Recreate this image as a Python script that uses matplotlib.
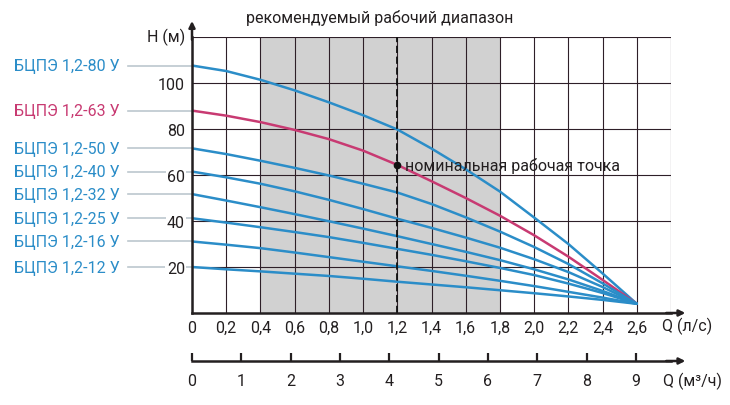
"""
Pump head curves for the БЦПЭ 1,2 series.
"""

import matplotlib.pyplot as plt

# Flow rate, l/s
Q_LS = [0, 0.2, 0.4, 0.6, 0.8, 1.0, 1.2, 1.4, 1.6, 1.8, 2.0, 2.2, 2.4, 2.6]

# Head, m, for each pump model
H_80 = [107.6, 105.2, 101.4, 96.8, 91.6, 86.0, 79.8, 71.5, 62.5, 52.8, 41.5, 30.0, 17.2, 4.0]
H_63 = [88.0, 85.8, 83.0, 79.6, 75.6, 70.6, 64.4, 57.3, 50.0, 42.3, 33.8, 24.5, 14.4, 4.0]
H_50 = [71.6, 69.1, 66.2, 63.1, 59.8, 56.2, 52.4, 47.4, 41.6, 35.4, 28.7, 21.3, 12.9, 4.0]
H_40 = [61.5, 59.0, 56.2, 52.9, 49.2, 45.2, 41.0, 37.0, 32.8, 28.4, 23.4, 17.8, 11.3, 4.0]
H_32 = [51.7, 48.9, 46.0, 43.0, 39.9, 36.7, 33.4, 30.0, 26.6, 23.0, 19.0, 14.6, 9.6, 4.0]
H_25 = [41.2, 39.3, 37.3, 35.2, 33.0, 30.5, 27.9, 25.3, 22.5, 19.6, 16.5, 12.8, 8.7, 4.0]
H_16 = [31.1, 29.7, 28.2, 26.3, 24.3, 22.3, 20.3, 18.3, 16.2, 14.0, 11.7, 9.2, 6.7, 4.0]
H_12 = [20.0, 19.0, 18.1, 17.1, 16.1, 14.9, 13.6, 12.4, 11.2, 9.9, 8.6, 7.2, 5.7, 4.0]

MODELS = ["БЦПЭ 1,2-80 У", "БЦПЭ 1,2-63 У", "БЦПЭ 1,2-50 У", "БЦПЭ 1,2-40 У",
          "БЦПЭ 1,2-32 У", "БЦПЭ 1,2-25 У", "БЦПЭ 1,2-16 У", "БЦПЭ 1,2-12 У"]
HEADS = [H_80, H_63, H_50, H_40, H_32, H_25, H_16, H_12]

# Recommended working range and nominal point
RANGE_Q = [0.4, 1.8]
NOMINAL_Q = 1.2
NOMINAL_H = 64.4

# Axis ticks
X_TICKS = [0, 0.2, 0.4, 0.6, 0.8, 1.0, 1.2, 1.4, 1.6, 1.8, 2.0, 2.2, 2.4, 2.6, 2.8]
X_LABELS = ["0", "0,2", "0,4", "0,6", "0,8", "1,0", "1,2", "1,4", "1,6", "1,8",
            "2,0", "2,2", "2,4", "2,6", ""]
Y_TICKS = [20, 40, 60, 80, 100, 120]
Y_LABELS = ["20", "40", "60", "80", "100", ""]
M3H_TICKS = [0, 1, 2, 3, 4, 5, 6, 7, 8, 9]

BLUE = "#2b8dc8"
RED = "#c83a72"
DARK = "#231f20"
GRID = "#2e1f28"
FS = 11.5


def draw_chart():
    """Draw the head curves with both flow scales."""
    plt.rcParams["font.family"] = ["Roboto", "DejaVu Sans"]
    fig = plt.figure(figsize=(7.3, 4.06), dpi=100)
    ax = fig.add_axes([192 / 730, 1 - 314 / 406, 479 / 730, 276 / 406])

    ax.set_xlim(0, 2.8)
    ax.set_ylim(0, 120)

    # Recommended range and nominal flow
    ax.axvspan(RANGE_Q[0], RANGE_Q[1], color="#d1d1d1", lw=0, zorder=0.3)
    ax.axvline(NOMINAL_Q, color="#111111", lw=1.3, ls=(0, (4, 2)), zorder=3)

    # Grid
    ax.set_axisbelow(True)
    ax.set_xticks(X_TICKS)
    ax.set_xticklabels(X_LABELS)
    ax.set_yticks(Y_TICKS)
    ax.set_yticklabels(Y_LABELS)
    ax.grid(True, color=GRID, lw=0.8)
    ax.tick_params(length=0, labelsize=FS, labelcolor=DARK)
    ax.tick_params(axis="x", pad=5)
    ax.tick_params(axis="y", pad=5)
    for lab in ax.get_yticklabels():
        lab.set_bbox(dict(facecolor="white", edgecolor="none", pad=1))

    for side in ["top", "right"]:
        ax.spines[side].set_visible(False)
    for side in ["left", "bottom"]:
        ax.spines[side].set_linewidth(1.8)
        ax.spines[side].set_color(DARK)
        ax.spines[side].set_zorder(4)

    arrow = dict(arrowstyle="-|>", color=DARK, lw=1.8, mutation_scale=9,
                 shrinkA=0, shrinkB=0)
    ax.annotate("", xy=(1.03, 0), xytext=(0.99, 0), xycoords="axes fraction",
                arrowprops=arrow, annotation_clip=False)
    ax.annotate("", xy=(0, 1.058), xytext=(0, 0.99), xycoords="axes fraction",
                arrowprops=arrow, annotation_clip=False)

    # Curves, labels and leader lines
    for name, head in zip(MODELS, HEADS):
        color = RED if "63" in name else BLUE
        ax.plot(Q_LS, head, color=color, lw=1.8, zorder=2, solid_capstyle="round",
                solid_joinstyle="round")
        ax.plot([-0.373, 0], [head[0], head[0]], color="#bcc7ce", lw=1.2,
                clip_on=False, zorder=0.2)
        ax.text(-0.42, head[0], name, color=color, fontsize=FS,
                ha="right", va="center")

    ax.plot([NOMINAL_Q], [NOMINAL_H], "o", color="#111111", ms=4.5, zorder=5)
    ax.text(NOMINAL_Q + 0.045, NOMINAL_H, "номинальная рабочая точка",
            fontsize=FS, color=DARK, va="center", zorder=5)

    ax.text(sum(RANGE_Q) / 2, 128.7, "рекомендуемый рабочий диапазон",
            fontsize=FS, color=DARK, ha="center", va="center")
    ax.text(-0.04, 120.4, "Н (м)", fontsize=FS, color=DARK,
            ha="right", va="center")
    ax.text(2.747, -5.2, "Q (л/с)", fontsize=FS, color=DARK, va="center")

    # Second flow scale, m3/h
    ax2 = fig.add_axes([192 / 730, 1 - 362 / 406, 479 / 730, 0.001])
    ax2.set_xlim(0, 9 * 479 / 444)
    ax2.patch.set_visible(False)
    for side in ["top", "right", "left"]:
        ax2.spines[side].set_visible(False)
    ax2.spines["bottom"].set_linewidth(1.8)
    ax2.spines["bottom"].set_color(DARK)
    ax2.set_yticks([])
    ax2.set_xticks(M3H_TICKS)
    ax2.set_xticklabels([str(t) for t in M3H_TICKS])
    ax2.tick_params(axis="x", direction="in", length=6, width=1.6, color=DARK,
                    pad=9, labelsize=FS, labelcolor=DARK)
    ax2.annotate("", xy=(1.03, 0), xytext=(0.99, 0), xycoords="axes fraction",
                 arrowprops=arrow, annotation_clip=False)
    fig.text(663 / 730, 1 - 381 / 406, "Q (м³/ч)", fontsize=FS, color=DARK,
             va="center")

    fig.savefig("out.png", dpi=100)
    plt.close(fig)


def main():
    draw_chart()


if __name__ == "__main__":
    main()
